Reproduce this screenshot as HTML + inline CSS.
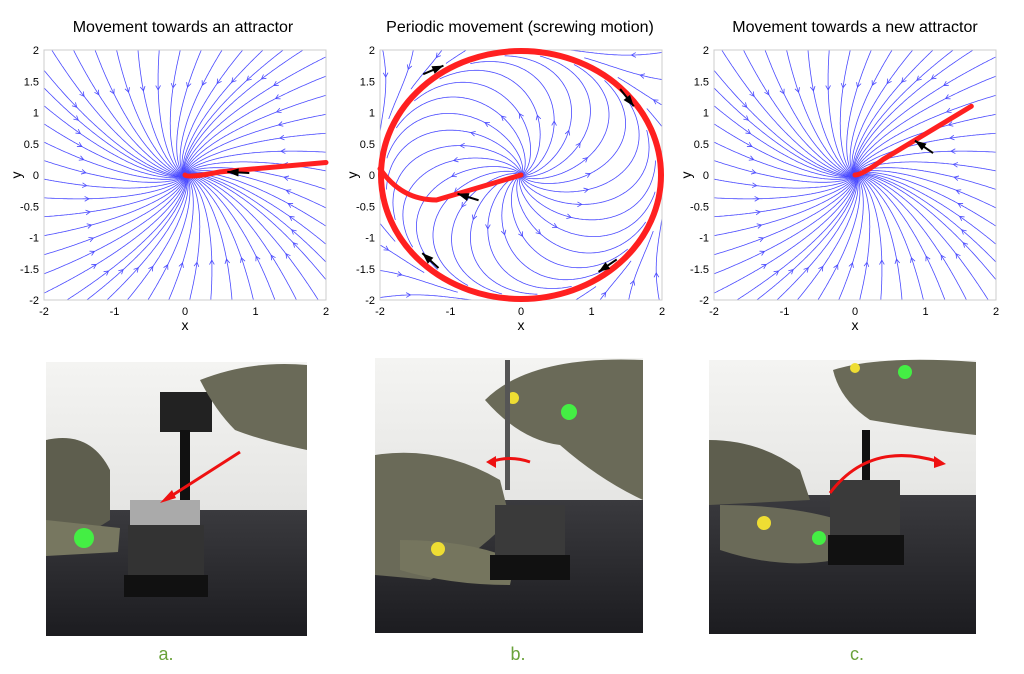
<!DOCTYPE html>
<html><head><meta charset="utf-8"><style>
html,body{margin:0;padding:0;background:#fff;width:1024px;height:674px;overflow:hidden;font-family:"Liberation Sans",Arial,sans-serif}
svg{position:absolute;left:0;top:0}
</style></head><body>
<svg id="s" width="1024" height="674" viewBox="0 0 1024 674" xmlns="http://www.w3.org/2000/svg" font-family="Liberation Sans, Arial, sans-serif">
<defs>
<linearGradient id="mat" x1="0" y1="0" x2="0" y2="1"><stop offset="0" stop-color="#3a3a3e"/><stop offset="1" stop-color="#1c1c20"/></linearGradient>
<linearGradient id="bg" x1="0" y1="0" x2="0" y2="1"><stop offset="0" stop-color="#f4f4f2"/><stop offset="1" stop-color="#d8d8d6"/></linearGradient>
</defs>
<text x="183" y="32" font-size="16" text-anchor="middle">Movement towards an attractor</text>
<text x="520" y="32" font-size="16" text-anchor="middle">Periodic movement (screwing motion)</text>
<text x="855" y="32" font-size="16" text-anchor="middle">Movement towards a new attractor</text>
<g id="plots"></g>
<g>
<rect x="46" y="362" width="261" height="274" fill="url(#bg)"/>
<rect x="46" y="510" width="261" height="126" fill="url(#mat)"/>
<rect x="160" y="392" width="52" height="40" fill="#222"/>
<rect x="180" y="430" width="10" height="80" fill="#111"/>
<path d="M200 380 Q250 360 307 365 L307 450 Q260 440 235 430 Q215 410 200 380Z" fill="#6a6a58"/>
<path d="M46 440 Q90 430 110 470 L110 520 Q80 540 46 545Z" fill="#5e5e4e"/>
<path d="M46 520 L120 528 L118 552 L46 556Z" fill="#777760"/>
<circle cx="84" cy="538" r="10" fill="#44ee44"/>
<rect x="130" y="500" width="70" height="25" fill="#aaa"/>
<rect x="128" y="525" width="76" height="55" fill="#333"/>
<rect x="124" y="575" width="84" height="22" fill="#111"/>
<line x1="240" y1="452" x2="165" y2="500" stroke="#e11" stroke-width="3"/>
<path d="M160 503 L172 490 L176 498Z" fill="#e11"/>
</g>
<g>
<rect x="375" y="358" width="268" height="275" fill="url(#bg)"/>
<rect x="375" y="500" width="268" height="133" fill="url(#mat)"/>
<path d="M485 400 Q530 355 643 360 L643 500 Q600 480 560 445 Q520 440 485 400Z" fill="#6a6a58"/>
<path d="M375 455 Q440 445 500 480 L510 520 Q470 560 430 580 L375 575Z" fill="#6a6a58"/>
<path d="M400 540 Q470 540 515 560 L510 585 Q450 585 400 570Z" fill="#75755e"/>
<circle cx="569" cy="412" r="8" fill="#44ee44"/><circle cx="513" cy="398" r="6" fill="#eedd33"/>
<circle cx="497" cy="568" r="7" fill="#44ee44"/><circle cx="438" cy="549" r="7" fill="#eedd33"/>
<rect x="505" y="360" width="5" height="130" fill="#555"/>
<rect x="495" y="505" width="70" height="55" fill="#3a3a3a"/>
<rect x="490" y="555" width="80" height="25" fill="#111"/>
<path d="M530 462 Q510 455 490 462" fill="none" stroke="#e11" stroke-width="3"/>
<path d="M486 462 L496 456 L496 468Z" fill="#e11"/>
</g>
<g>
<rect x="709" y="360" width="267" height="274" fill="url(#bg)"/>
<rect x="709" y="495" width="267" height="139" fill="url(#mat)"/>
<path d="M833 370 Q880 355 976 362 L976 435 Q930 430 870 420 Q840 400 833 370Z" fill="#6a6a58"/>
<path d="M709 440 Q760 440 800 470 L810 500 L709 505Z" fill="#5e5e4e"/>
<path d="M720 505 Q790 505 840 520 L835 560 Q780 570 720 550Z" fill="#6a6a58"/>
<circle cx="905" cy="372" r="7" fill="#44ee44"/><circle cx="855" cy="368" r="5" fill="#eedd33"/>
<circle cx="819" cy="538" r="7" fill="#44ee44"/><circle cx="764" cy="523" r="7" fill="#eedd33"/>
<rect x="862" y="430" width="8" height="60" fill="#111"/>
<rect x="830" y="480" width="70" height="55" fill="#3a3a3a"/>
<rect x="828" y="535" width="76" height="30" fill="#111"/>
<path d="M830 493 Q870 440 940 462" fill="none" stroke="#e11" stroke-width="3"/>
<path d="M946 464 L934 456 L934 468Z" fill="#e11"/>
</g>
<text x="166" y="660" font-size="18" fill="#6aa23a" text-anchor="middle">a.</text>
<text x="518" y="660" font-size="18" fill="#6aa23a" text-anchor="middle">b.</text>
<text x="857" y="660" font-size="18" fill="#6aa23a" text-anchor="middle">c.</text>
</svg>
<script>
(function(){
var NS="http://www.w3.org/2000/svg",G=document.getElementById("plots");
function el(t,a,p){var e=document.createElementNS(NS,t);for(var k in a)e.setAttribute(k,a[k]);(p||G).appendChild(e);return e;}
var plots=[{x0:44,f:1},{x0:380,f:2},{x0:714,f:3}];
var W=282,H=250,Y0=50;
plots.forEach(function(P,pi){
 var X=function(x){return P.x0+(x+2)/4*W},Y=function(y){return Y0+(2-y)/4*H};
 var g=el("g",{});
 var cid="c"+pi;var cp=el("clipPath",{id:cid},g);el("rect",{x:P.x0,y:Y0,width:W,height:H},cp);
 var lines=el("g",{"clip-path":"url(#"+cid+")"},g);
 function field(x,y){
  if(P.f==2){var r=Math.sqrt(x*x+y*y)+1e-9;var vr=r*(1-r/2)*1.6,vt=0.45;
   return [vr*x/r - vt*y, vr*y/r + vt*x];}
  return [-x-0.25*y, -y+0.25*x];
 }
 function trace(x,y,dir,maxn){
  var pts=[[x,y]],h=0.02;maxn=maxn||700;
  for(var i=0;i<maxn;i++){var v=field(x,y),n=Math.hypot(v[0],v[1]);if(n<1e-6)break;
   x+=dir*h*v[0]/n;y+=dir*h*v[1]/n;pts.push([x,y]);
   if(Math.hypot(x,y)<0.03)break;
   if(P.f==2&&Math.abs(Math.hypot(x,y)-2)<0.08)break;
   if(Math.abs(x)>2.3||Math.abs(y)>2.3)break;}
  return pts;}
 function draw(pts){if(pts.length<3)return;var d="";pts.forEach(function(p,i){d+=(i?"L":"M")+X(p[0]).toFixed(1)+" "+Y(p[1]).toFixed(1)});
  el("path",{d:d,fill:"none",stroke:"#4a4aff","stroke-width":"0.8"},lines);
  var m=pts[Math.floor(pts.length*0.35)],m2=pts[Math.floor(pts.length*0.35)+2];
  if(m&&m2){var a=Math.atan2(Y(m2[1])-Y(m[1]),X(m2[0])-X(m[0]));var cx=X(m2[0]),cy=Y(m2[1]);
   el("path",{d:"M"+(cx-5*Math.cos(a-0.5))+" "+(cy-5*Math.sin(a-0.5))+"L"+cx+" "+cy+"L"+(cx-5*Math.cos(a+0.5))+" "+(cy-5*Math.sin(a+0.5)),fill:"none",stroke:"#4a4aff","stroke-width":"0.8"},lines);}}
 var seeds=[],st=P.f==2?0.5:0.33;
 for(var t=-2;t<2;t+=st){seeds.push([t,2.2],[2.2,-t],[-t,-2.2],[-2.2,t]);}
 seeds.forEach(function(s){draw(trace(s[0],s[1],1));});
 if(P.f==2){for(var k=0;k<24;k++){var a=k/24*2*Math.PI;draw(trace(0.03*Math.cos(a),0.03*Math.sin(a),1,400));}}
 el("rect",{x:P.x0,y:Y0,width:W,height:H,fill:"none",stroke:"#ccc","stroke-width":"1"},g);
 [-2,-1,0,1,2].forEach(function(v){el("text",{x:X(v),y:Y0+H+15,"font-size":"11","text-anchor":"middle"},g).textContent=v;});
 [2,1.5,1,0.5,0,-0.5,-1,-1.5,-2].forEach(function(v){el("text",{x:P.x0-5,y:Y(v)+4,"font-size":"11","text-anchor":"end"},g).textContent=v;});
 el("text",{x:X(0),y:Y0+H+30,"font-size":"14","text-anchor":"middle"},g).textContent="x";
 var yl=el("text",{x:P.x0-27,y:Y0+H/2+4,"font-size":"14","text-anchor":"middle",transform:"rotate(-90 "+(P.x0-27)+" "+(Y0+H/2)+")"},g);yl.textContent="y";
 var red="#ff2020";
 function rp(d,w){el("path",{d:d,fill:"none",stroke:red,"stroke-width":w,"stroke-linecap":"round"},g);}
 function arr(x,y,a){var c=X(x),d=Y(y);el("path",{d:"M"+c+" "+d+"L"+(c-12*Math.cos(a-0.35))+" "+(d-12*Math.sin(a-0.35))+"L"+(c-12*Math.cos(a+0.35))+" "+(d-12*Math.sin(a+0.35))+"Z",fill:"#000"},g);
  el("line",{x1:c,y1:d,x2:c-22*Math.cos(a),y2:d-22*Math.sin(a),stroke:"#000","stroke-width":"2"},g);}
 if(P.f==1){rp("M"+X(2)+" "+Y(0.2)+" L"+X(0.5)+" "+Y(0.05)+" Q"+X(0.05)+" "+Y(-0.05)+" "+X(0)+" "+Y(0),5);arr(0.6,0.05,Math.PI+0.05);}
 if(P.f==3){rp("M"+X(1.65)+" "+Y(1.1)+" L"+X(0.4)+" "+Y(0.25)+" Q"+X(0.1)+" "+Y(0)+" "+X(0)+" "+Y(0),5);arr(0.85,0.55,Math.PI+0.6);}
 if(P.f==2){el("ellipse",{cx:X(0),cy:Y(0),rx:W/2-1,ry:H/2-1,fill:"none",stroke:red,"stroke-width":"6"},g);
  rp("M"+X(0)+" "+Y(0)+" L"+X(-1.2)+" "+Y(-0.4)+" Q"+X(-1.7)+" "+Y(-0.4)+" "+X(-2)+" "+Y(0.1),5);
  arr(-0.9,-0.3,Math.PI+0.3);arr(-1.1,1.75,-0.4);arr(1.6,1.1,0.9);arr(1.1,-1.55,Math.PI-0.6);arr(-1.4,-1.25,-2.4);}
});
})();
</script>
</body></html>
